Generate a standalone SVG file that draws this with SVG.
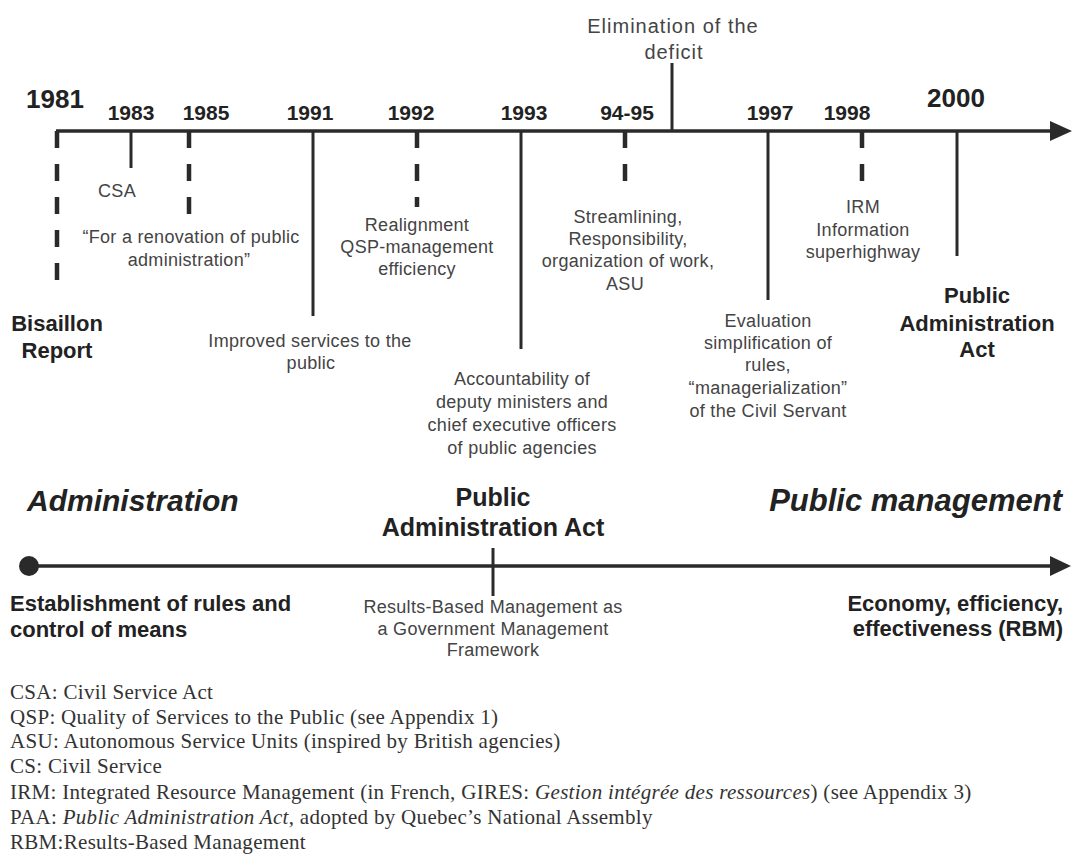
<svg xmlns="http://www.w3.org/2000/svg" width="1074" height="867" viewBox="0 0 1074 867">
<style>
.yr{font-family:"Liberation Sans",Arial,sans-serif;font-weight:bold;font-size:21px;fill:#222;text-anchor:middle}
.yrb{font-size:26px}
.sm{font-family:"Liberation Sans",Arial,sans-serif;font-size:18px;letter-spacing:0.3px;fill:#444;text-anchor:middle}
.bd{font-family:"Liberation Sans",Arial,sans-serif;font-weight:bold;font-size:22px;fill:#222;text-anchor:middle}
.it{font-family:"Liberation Sans",Arial,sans-serif;font-weight:bold;font-style:italic;font-size:30px;fill:#222}
.fn{font-family:"Liberation Serif","Times New Roman",serif;font-size:21px;letter-spacing:0.3px;fill:#333}
.ax{stroke:#2a2a2a;stroke-width:3.5;fill:none}
.tk{stroke:#2a2a2a;stroke-width:3;fill:none}
.dt{stroke:#2a2a2a;stroke-width:4.5;fill:none;stroke-dasharray:17 16}
</style>
<rect width="1074" height="867" fill="#fff"/>
<g id="connectors">
<line class="ax" x1="56" y1="131" x2="1055" y2="131"/>
<polygon points="1072,131 1050,121 1050,141" fill="#2a2a2a"/>
<line class="dt" x1="57" y1="131" x2="57" y2="283"/>
<line class="tk" x1="131" y1="131" x2="131" y2="168"/>
<line class="dt" x1="189" y1="131" x2="189" y2="216"/>
<line class="tk" x1="313" y1="131" x2="313" y2="316"/>
<line class="dt" x1="417" y1="131" x2="417" y2="207"/>
<line class="tk" x1="521" y1="131" x2="521" y2="349"/>
<line class="dt" x1="625" y1="131" x2="625" y2="182"/>
<line class="tk" x1="672" y1="63" x2="672" y2="131"/>
<line class="tk" x1="768" y1="131" x2="768" y2="300"/>
<line class="dt" x1="862" y1="131" x2="862" y2="182"/>
<line class="tk" x1="957" y1="131" x2="957" y2="256"/>
<circle cx="29" cy="566" r="10" fill="#2a2a2a"/>
<line class="ax" x1="29" y1="566" x2="1055" y2="566"/>
<polygon points="1071,566 1050,556 1050,576" fill="#2a2a2a"/>
<line class="tk" x1="493" y1="548" x2="493" y2="596"/>
</g>
<g id="e1981">
<text class="yr yrb" x="55" y="108">1981</text>
<text class="bd" x="57" y="331">Bisaillon</text>
<text class="bd" x="57" y="358">Report</text>
</g>
<g id="e1983">
<text class="yr" x="131" y="120">1983</text>
<text class="sm" x="117" y="197">CSA</text>
</g>
<g id="e1985">
<text class="yr" x="206" y="120">1985</text>
<text class="sm" x="191" y="243">“For a renovation of public</text>
<text class="sm" x="189" y="266">administration”</text>
</g>
<g id="e1991">
<text class="yr" x="310" y="120">1991</text>
<text class="sm" x="310" y="347">Improved services to the</text>
<text class="sm" x="311" y="369">public</text>
</g>
<g id="e1992">
<text class="yr" x="411" y="120">1992</text>
<text class="sm" x="417" y="231">Realignment</text>
<text class="sm" x="417" y="253">QSP-management</text>
<text class="sm" x="417" y="275">efficiency</text>
</g>
<g id="e1993">
<text class="yr" x="524" y="120">1993</text>
<text class="sm" x="522" y="385">Accountability of</text>
<text class="sm" x="522" y="408">deputy ministers and</text>
<text class="sm" x="522" y="431">chief executive officers</text>
<text class="sm" x="522" y="454">of public agencies</text>
</g>
<g id="e9495">
<text class="yr" x="627" y="120">94-95</text>
<text class="sm" x="628" y="223">Streamlining,</text>
<text class="sm" x="628" y="245">Responsibility,</text>
<text class="sm" x="628" y="267">organization of work,</text>
<text class="sm" x="625" y="290">ASU</text>
</g>
<g id="deficit">
<text class="sm" x="673" y="33" style="font-size:20px;letter-spacing:1px">Elimination of the</text>
<text class="sm" x="674" y="59" style="font-size:20px;letter-spacing:1px">deficit</text>
</g>
<g id="e1997">
<text class="yr" x="770" y="120">1997</text>
<text class="sm" x="768" y="327">Evaluation</text>
<text class="sm" x="768" y="349">simplification of</text>
<text class="sm" x="768" y="371">rules,</text>
<text class="sm" x="768" y="394">“managerialization”</text>
<text class="sm" x="768" y="417">of the Civil Servant</text>
</g>
<g id="e1998">
<text class="yr" x="847" y="120">1998</text>
<text class="sm" x="863" y="213">IRM</text>
<text class="sm" x="863" y="236">Information</text>
<text class="sm" x="863" y="258">superhighway</text>
</g>
<g id="e2000">
<text class="yr yrb" x="956" y="107">2000</text>
<text class="bd" x="977" y="303">Public</text>
<text class="bd" x="977" y="331">Administration</text>
<text class="bd" x="977" y="357">Act</text>
</g>
<g id="admin">
<text class="it" x="27" y="511">Administration</text>
<text class="bd" x="10" y="611" style="text-anchor:start">Establishment of rules and</text>
<text class="bd" x="10" y="637" style="text-anchor:start">control of means</text>
</g>
<g id="paa">
<text class="bd" x="493" y="506" style="font-size:25px">Public</text>
<text class="bd" x="493" y="536" style="font-size:25px">Administration Act</text>
<text class="sm" x="493" y="613">Results-Based Management as</text>
<text class="sm" x="493" y="635">a Government Management</text>
<text class="sm" x="493" y="656">Framework</text>
</g>
<g id="pm">
<text class="it" x="1062" y="511" style="text-anchor:end;font-size:31px">Public management</text>
<text class="bd" x="1063" y="611" style="text-anchor:end">Economy, efficiency,</text>
<text class="bd" x="1063" y="636" style="text-anchor:end">effectiveness (RBM)</text>
</g>
<g id="legend">
<text class="fn" x="10" y="699">CSA: Civil Service Act</text>
<text class="fn" x="10" y="724">QSP: Quality of Services to the Public (see Appendix 1)</text>
<text class="fn" x="10" y="748">ASU: Autonomous Service Units (inspired by British agencies)</text>
<text class="fn" x="10" y="773">CS: Civil Service</text>
<text class="fn" x="10" y="799">IRM: Integrated Resource Management (in French, GIRES: <tspan font-style="italic">Gestion intégrée des ressources</tspan>) (see Appendix 3)</text>
<text class="fn" x="10" y="824">PAA: <tspan font-style="italic">Public Administration Act</tspan>, adopted by Quebec’s National Assembly</text>
<text class="fn" x="10" y="849">RBM:Results-Based Management</text>
</g>
</svg>
